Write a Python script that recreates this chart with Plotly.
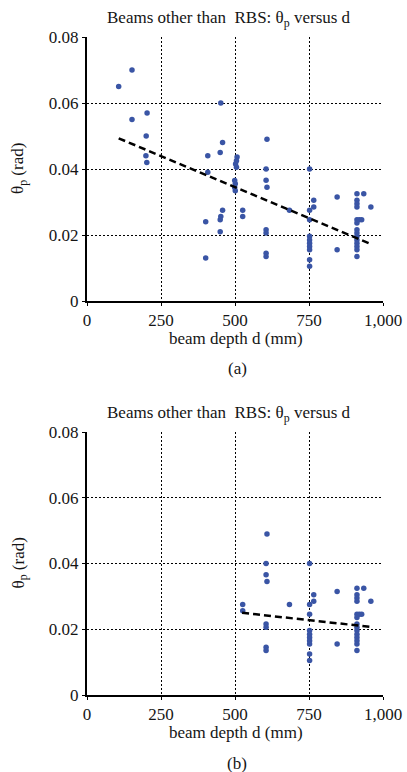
import plotly.graph_objects as go

# ---------------- data ----------------
depth_a = [107, 152, 152, 203, 200, 199, 202,
           408, 408, 401, 401, 452, 458, 450, 458, 452, 450, 450,
           507, 505, 502, 505, 499, 501, 499, 501, 526, 526,
           608, 605, 605, 608, 605, 605, 605, 605, 684,
           752, 766, 766, 752, 752, 752, 752, 752, 752, 752, 752, 752, 845, 845,
           912, 935, 912, 912, 912, 959, 912, 920, 928, 912, 912, 912, 912, 912, 912, 912, 912, 912]
theta_a = [0.065, 0.070, 0.055, 0.057, 0.050, 0.044, 0.042,
           0.044, 0.039, 0.024, 0.013, 0.060, 0.048, 0.045, 0.0275, 0.0256, 0.0246, 0.021,
           0.0436, 0.0425, 0.0415, 0.0405, 0.0365, 0.0355, 0.0344, 0.0334, 0.0275, 0.0256,
           0.049, 0.040, 0.0366, 0.0345, 0.0216, 0.0206, 0.0145, 0.0135, 0.0275,
           0.040, 0.0305, 0.0285, 0.0275, 0.0246, 0.0196, 0.0185, 0.0175, 0.0165, 0.0155, 0.0125, 0.0105, 0.0315, 0.0155,
           0.0325, 0.0325, 0.0305, 0.0295, 0.0285, 0.0285, 0.0246, 0.0246, 0.0246, 0.0236, 0.0216, 0.0206, 0.0196, 0.0185, 0.0175, 0.0165, 0.0155, 0.0135]

# subset shown in panel (b): beams deeper than about 510 mm
depth_b = [d for d in depth_a if d > 510]
theta_b = [t for d, t in zip(depth_a, theta_a) if d > 510]

trend_a_x = [107, 955]
trend_a_y = [0.0493, 0.0174]
trend_b_x = [524, 959]
trend_b_y = [0.0250, 0.0207]

x_ticks = [0, 250, 500, 750, 1000]
x_labels = ["0", "250", "500", "750", "1,000"]
y_ticks = [0, 0.02, 0.04, 0.06, 0.08]
y_labels = ["0", "0.02", "0.04", "0.06", "0.08"]

title_text = "Beams other than  RBS: θ<sub>p</sub> versus d"
xtitle = "beam depth d (mm)"
ytitle = "θ<sub>p</sub> (rad)"
panel_labels = ["(a)", "(b)"]

# ---------------- layout helpers ----------------
W, H = 407, 772
FONT = "Liberation Serif"
TXT = "#151515"
DOT = "#3a55a5"


def px_x(p):
    return p / W


def px_y(p):
    return 1 - p / H


fig = go.Figure()

for dx, dy, tx, ty, xa, ya in [(depth_a, theta_a, trend_a_x, trend_a_y, "x", "y"),
                               (depth_b, theta_b, trend_b_x, trend_b_y, "x2", "y2")]:
    fig.add_trace(go.Scatter(x=dx, y=dy, mode="markers",
                             marker=dict(color=DOT, size=5.5),
                             xaxis=xa, yaxis=ya, showlegend=False))
    fig.add_trace(go.Scatter(x=tx, y=ty, mode="lines",
                             line=dict(color="black", width=2.5, dash="7px,4px"),
                             xaxis=xa, yaxis=ya, showlegend=False))

xdom = [px_x(87), px_x(383)]
panels = [(37, 301), (432, 695)]

common_x = dict(range=[0, 1000], tickvals=x_ticks, ticktext=x_labels,
                showgrid=True, gridcolor="black", griddash="2px,2px", gridwidth=1,
                showline=True, linecolor="black", linewidth=2,
                ticks="outside", ticklen=3, tickcolor="black",
                zeroline=False, tickfont=dict(family=FONT, size=17, color=TXT),
                domain=xdom)
common_y = dict(range=[0, 0.08], tickvals=y_ticks, ticktext=y_labels,
                showgrid=True, gridcolor="black", griddash="2px,2px", gridwidth=1,
                showline=True, linecolor="black", linewidth=2,
                ticks="outside", ticklen=3, tickcolor="black",
                zeroline=False, tickfont=dict(family=FONT, size=17, color=TXT))

fig.update_layout(
    width=W, height=H,
    margin=dict(l=0, r=0, t=0, b=0, autoexpand=False),
    paper_bgcolor="white", plot_bgcolor="white",
    xaxis=dict(common_x, anchor="y"),
    yaxis=dict(common_y, anchor="x", domain=[px_y(panels[0][1]), px_y(panels[0][0])]),
    xaxis2=dict(common_x, anchor="y2"),
    yaxis2=dict(common_y, anchor="x2", domain=[px_y(panels[1][1]), px_y(panels[1][0])]),
    font=dict(family=FONT, color=TXT),
)

annotations = []
for i, (top, bot) in enumerate(panels):
    annotations.append(dict(text=title_text, x=px_x(229), y=px_y(top - 18),
                            xref="paper", yref="paper", showarrow=False,
                            xanchor="center", yanchor="middle",
                            font=dict(family=FONT, size=17, color=TXT)))
    annotations.append(dict(text=xtitle, x=px_x(236), y=px_y(bot + 37),
                            xref="paper", yref="paper", showarrow=False,
                            xanchor="center", yanchor="middle",
                            font=dict(family=FONT, size=17, color=TXT)))
    annotations.append(dict(text=panel_labels[i], x=px_x(237), y=px_y(bot + 68),
                            xref="paper", yref="paper", showarrow=False,
                            xanchor="center", yanchor="middle",
                            font=dict(family=FONT, size=17, color=TXT)))
    annotations.append(dict(text=ytitle, x=px_x(19), y=px_y((top + bot) / 2),
                            xref="paper", yref="paper", showarrow=False, textangle=-90,
                            xanchor="center", yanchor="middle",
                            font=dict(family=FONT, size=17, color=TXT)))
fig.update_layout(annotations=annotations)

fig.write_html("out.html", post_script="document.body.style.margin='0';")
